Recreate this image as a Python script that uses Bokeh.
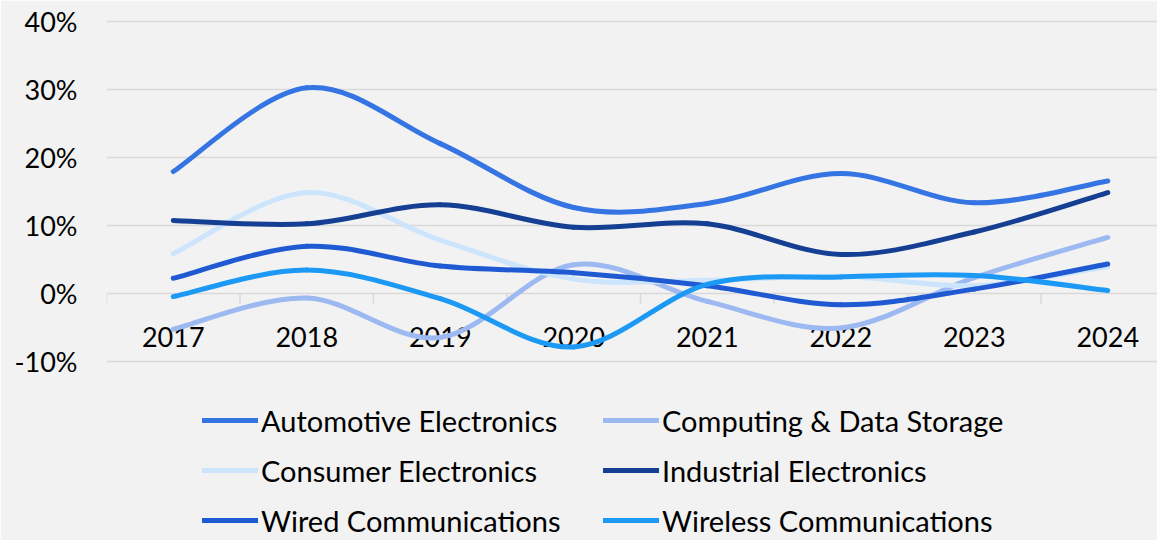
from bokeh.plotting import figure
from bokeh.models import (FixedTicker, PrintfTickFormatter, Legend, LegendItem,
                          ColumnDataSource, Range1d)
from bokeh.core.properties import value
from bokeh.embed import file_html
from bokeh.resources import INLINE

years = ["2017", "2018", "2019", "2020", "2021", "2022", "2023", "2024"]
automotive = [18.0, 30.3, 22.1, 12.7, 13.3, 17.7, 13.4, 16.6]
computing = [-5.2, -0.6, -6.4, 4.3, -1.1, -5.0, 2.4, 8.3]
consumer = [5.9, 14.9, 7.9, 2.2, 2.0, 2.6, 1.2, 4.0]
industrial = [10.8, 10.3, 13.1, 9.8, 10.3, 5.8, 9.1, 14.9]
wired = [2.3, 7.0, 4.1, 3.1, 1.2, -1.6, 0.7, 4.4]
wireless = [-0.4, 3.5, -0.7, -7.8, 1.4, 2.5, 2.7, 0.5]
y_ticks = [-10, 0, 10, 20, 30, 40]

series = [
    ("Automotive Electronics", automotive, "#3574E3"),
    ("Computing & Data Storage", computing, "#9DB9F2"),
    ("Consumer Electronics", consumer, "#CCE5FC"),
    ("Industrial Electronics", industrial, "#143F93"),
    ("Wired Communications", wired, "#1F5AD2"),
    ("Wireless Communications", wireless, "#1B99F4"),
]

FONT = "Lato"
W, H = 1157, 540
LEFT = 106
CAT_PX = 133.5
PX_PER_UNIT = 6.8
TOP = 10
frame_w = W - LEFT
frame_h = H - TOP
y_end = 40 + (21.4 - TOP) / PX_PER_UNIT
y_start = y_end - frame_h / PX_PER_UNIT

p = figure(width=W, height=H, output_backend="svg", toolbar_location=None,
           min_border_left=LEFT, min_border_right=0, min_border_top=TOP,
           min_border_bottom=0, background_fill_color="#F2F2F2",
           border_fill_color="#F2F2F2", outline_line_color=None)
p.x_range = Range1d(-0.5, -0.5 + frame_w / CAT_PX)
p.y_range = Range1d(y_start, y_end)

p.xaxis.visible = False
p.xgrid.visible = False
p.ygrid.ticker = FixedTicker(ticks=y_ticks)
p.ygrid.grid_line_color = "#D9D9D9"
p.ygrid.grid_line_width = 1.5

ax = p.yaxis[0]
ax.ticker = FixedTicker(ticks=y_ticks)
ax.formatter = PrintfTickFormatter(format="%d%%")
ax.axis_line_color = None
ax.major_tick_line_color = None
ax.minor_tick_line_color = None
ax.major_tick_out = 0
ax.major_label_standoff = 29
ax.major_label_text_font = FONT
ax.major_label_text_font_size = "27px"
ax.major_label_text_color = "#000000"

# category boundary ticks on the zero line
n = len(years)
bounds = [i - 0.5 for i in range(n + 1)]
p.segment(x0=bounds, y0=[0] * len(bounds), x1=bounds, y1=[-1.45] * len(bounds),
          line_color="#D9D9D9", line_width=1.5)

# category labels
p.text(x=list(range(n)), y=[-6.3] * n, text=years, text_align="center",
       text_baseline="middle", text_font=value(FONT), text_font_size="27px",
       text_color="#000000")


def smooth_segments(vals):
    xs = list(range(len(vals)))
    x0, y0, x1, y1, cx0, cy0, cx1, cy1 = [], [], [], [], [], [], [], []
    m = len(vals)
    for i in range(m - 1):
        ip, inx, inn = max(i - 1, 0), i + 1, min(i + 2, m - 1)
        x0.append(xs[i]); y0.append(vals[i])
        x1.append(xs[inx]); y1.append(vals[inx])
        cx0.append(xs[i] + (xs[inx] - xs[ip]) / 6)
        cy0.append(vals[i] + (vals[inx] - vals[ip]) / 6)
        cx1.append(xs[inx] - (xs[inn] - xs[i]) / 6)
        cy1.append(vals[inx] - (vals[inn] - vals[i]) / 6)
    return dict(x0=x0, y0=y0, x1=x1, y1=y1, cx0=cx0, cy0=cy0, cx1=cx1, cy1=cy1)


renderers = {}
for name, vals, color in series:
    src = ColumnDataSource(smooth_segments(vals))
    r = p.bezier(x0="x0", y0="y0", x1="x1", y1="y1", cx0="cx0", cy0="cy0",
                 cx1="cx1", cy1="cy1", source=src, line_color=color,
                 line_width=5, line_cap="round")
    renderers[name] = r


def make_legend(names, x, y):
    return Legend(items=[LegendItem(label=nm, renderers=[renderers[nm]]) for nm in names],
                  location=(x, y), orientation="vertical", padding=0, margin=0,
                  border_line_color=None, background_fill_alpha=0,
                  glyph_width=56, glyph_height=36, label_height=36, spacing=14,
                  label_standoff=3, label_text_font=FONT,
                  label_text_font_size="29px", label_text_color="#000000")


p.add_layout(make_legend(["Automotive Electronics", "Consumer Electronics",
                          "Wired Communications"], 96, 2))
p.add_layout(make_legend(["Computing & Data Storage", "Industrial Electronics",
                          "Wireless Communications"], 497, 2))

open("out.html", "w").write(file_html(p, INLINE))
